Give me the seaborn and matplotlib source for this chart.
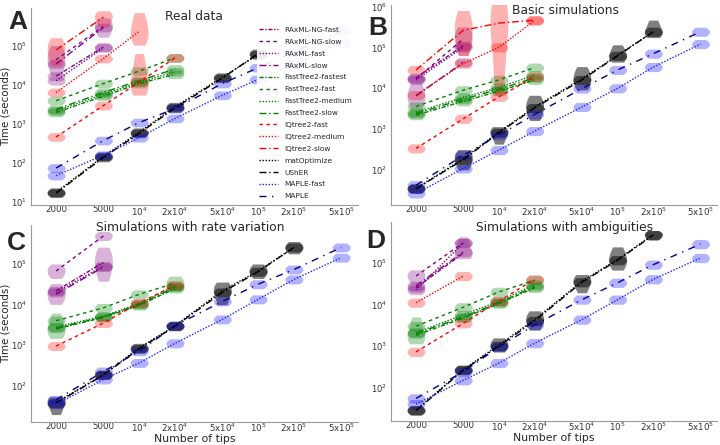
import matplotlib
matplotlib.use("Agg")
import matplotlib.pyplot as plt
from matplotlib.ticker import NullFormatter
import numpy as np
import pandas as pd
import seaborn as sns

SIZES = [2000, 5000, 10000, 20000, 50000, 100000, 200000, 500000]
XLABELS = ["2000", "5000", "10$^4$", "2x10$^4$", "5x10$^4$", "10$^5$", "2x10$^5$", "5x10$^5$"]

METHODS = ["RAxML-NG-fast", "RAxML-NG-slow", "RAxML-fast", "RAxML-slow",
           "FastTree2-fastest", "FastTree2-fast", "FastTree2-medium", "FastTree2-slow",
           "IQtree2-fast", "IQtree2-medium", "IQtree2-slow",
           "matOptimize", "UShER", "MAPLE-fast", "MAPLE"]

# median run times (seconds), one value per size in SIZES order
REAL_MEDIANS = {
    "RAxML-NG-fast": [1.7e4, 9.5e4],
    "RAxML-NG-slow": [4.5e4, 3.2e5],
    "RAxML-fast": [1.3e4, 9.0e4],
    "RAxML-slow": [3.5e4, 3.0e5],
    "FastTree2-fastest": [2000, 5200, 1.1e4, 1.9e4],
    "FastTree2-fast": [4000, 1.1e4, 2.3e4, 5.0e4],
    "FastTree2-medium": [2200, 5800, 1.2e4, 2.2e4],
    "FastTree2-slow": [2400, 6500, 1.3e4, 2.6e4],
    "IQtree2-fast": [470, 3000, 1.2e4, 5.0e4],
    "IQtree2-medium": [6500, 4.8e4, 2.4e5],
    "IQtree2-slow": [8.0e4, 5.5e5],
    "matOptimize": [18, 150, 620, 2800, 1.6e4, 6.0e4],
    "UShER": [17, 140, 580, 2600, 1.5e4, 6.5e4],
    "MAPLE-fast": [48, 160, 450, 1400, 5500, 1.4e4, 3.5e4, 1.2e5],
    "MAPLE": [75, 380, 1100, 2500, 1.1e4, 2.8e4, 7.0e4, 2.5e5],
}
# spread (low, high) of the taller violins; the others are narrow blobs
REAL_RANGES = {
    ("IQtree2-slow", 2000): (4.0e4, 1.3e5),
    ("RAxML-NG-slow", 2000): (2.2e4, 8.0e4),
    ("IQtree2-slow", 5000): (3.5e5, 7.0e5),
    ("RAxML-NG-slow", 5000): (2.0e5, 4.5e5),
    ("IQtree2-medium", 10000): (1.4e5, 5.5e5),
    ("IQtree2-fast", 10000): (8.0e3, 4.5e4),
}

BASIC_MEDIANS = {
    "RAxML-NG-fast": [1.8e4, 1.1e5],
    "RAxML-NG-slow": [1.7e4, 1.6e5],
    "RAxML-fast": [1.6e4, 1.0e5],
    "RAxML-slow": [6500, 4.3e4],
    "FastTree2-fastest": [2200, 4800, 8500, 1.6e4],
    "FastTree2-fast": [3600, 9000, 1.6e4, 3.2e4],
    "FastTree2-medium": [2600, 6000, 1.05e4, 2.1e4],
    "FastTree2-slow": [2400, 5400, 9500, 1.8e4],
    "IQtree2-fast": [340, 1800, 6200, 1.9e4],
    "IQtree2-medium": [6800, 4.0e4, 1.0e5, 4.5e5],
    "IQtree2-slow": [2.8e4, 2.6e5, 3.9e5, 4.6e5],
    "matOptimize": [36, 190, 860, 3500, 1.7e4, 6.4e4, 2.4e5],
    "UShER": [35, 180, 820, 3300, 1.6e4, 6.2e4, 2.4e5],
    "MAPLE-fast": [27, 110, 310, 900, 3500, 1.0e4, 3.3e4, 1.2e5],
    "MAPLE": [43, 230, 720, 2300, 9800, 2.8e4, 7.0e4, 2.4e5],
}
BASIC_RANGES = {
    ("IQtree2-slow", 5000): (9.0e4, 5.5e5),
    ("IQtree2-slow", 10000): (1.5e4, 6.0e5),
    ("RAxML-slow", 2000): (4000, 1.1e4),
    ("RAxML-NG-slow", 5000): (8.0e4, 2.5e5),
    ("matOptimize", 5000): (120, 270),
    ("matOptimize", 10000): (500, 1000),
    ("matOptimize", 20000): (2000, 5500),
    ("matOptimize", 50000): (1.1e4, 2.8e4),
    ("matOptimize", 100000): (5.0e4, 1.0e5),
    ("matOptimize", 200000): (2.0e5, 4.0e5),
}

RATE_MEDIANS = {
    "RAxML-NG-fast": [2.2e4, 1.1e5],
    "RAxML-NG-slow": [6.8e4, 5.0e5],
    "RAxML-fast": [2.0e4, 9.0e4],
    "RAxML-slow": [1.8e4, 8.5e4],
    "FastTree2-fastest": [2500, 4800, 9500, 2.5e4],
    "FastTree2-fast": [4000, 8300, 1.8e4, 3.4e4],
    "FastTree2-medium": [2800, 5200, 1.05e4, 2.9e4],
    "FastTree2-slow": [2600, 5000, 1.0e4, 2.7e4],
    "IQtree2-fast": [940, 3500, 1.1e4, 3.0e4],
    "matOptimize": [38, 185, 850, 3000, 2.2e4, 6.8e4, 2.6e5],
    "UShER": [36, 180, 800, 2900, 2.0e4, 6.5e4, 2.6e5],
    "MAPLE-fast": [34, 140, 360, 1100, 4300, 1.35e4, 4.2e4, 1.45e5],
    "MAPLE": [44, 220, 700, 3000, 1.2e4, 3.2e4, 7.4e4, 2.6e5],
}
RATE_RANGES = {
    ("RAxML-NG-fast", 5000): (5.0e4, 2.0e5),
    ("RAxML-slow", 2000): (1.2e4, 2.8e4),
    ("RAxML-NG-slow", 2000): (5.0e4, 9.0e4),
    ("FastTree2-fastest", 2000): (1800, 5000),
    ("FastTree2-fast", 20000): (2.5e4, 4.5e4),
    ("matOptimize", 2000): (22, 45),
    ("matOptimize", 50000): (1.2e4, 3.0e4),
    ("matOptimize", 100000): (5.0e4, 9.0e4),
    ("matOptimize", 200000): (2.0e5, 3.3e5),
}

AMBIG_MEDIANS = {
    "RAxML-NG-fast": [2.5e4, 1.7e5],
    "RAxML-NG-slow": [4.8e4, 3.0e5],
    "RAxML-fast": [2.2e4, 3.0e5],
    "RAxML-slow": [2.8e4, 1.8e5],
    "FastTree2-fastest": [1800, 4700, 1.05e4, 2.5e4],
    "FastTree2-fast": [3000, 8500, 2.0e4, 3.8e4],
    "FastTree2-medium": [2100, 5600, 1.2e4, 3.0e4],
    "FastTree2-slow": [2000, 5000, 1.1e4, 2.7e4],
    "IQtree2-fast": [720, 3500, 1.2e4, 4.0e4],
    "IQtree2-medium": [1.1e4, 4.8e4],
    "matOptimize": [29, 270, 1070, 4300, 3.6e4, 1.2e5, 4.8e5],
    "UShER": [28, 260, 1000, 4000, 3.4e4, 1.15e5, 4.6e5],
    "MAPLE-fast": [40, 150, 390, 1170, 4300, 1.3e4, 4.0e4, 1.3e5],
    "MAPLE": [55, 240, 950, 3200, 1.3e4, 3.3e4, 9.0e4, 2.8e5],
}
AMBIG_RANGES = {
    ("RAxML-NG-fast", 5000): (1.5e5, 3.5e5),
    ("RAxML-NG-slow", 2000): (3.5e4, 6.0e4),
    ("FastTree2-fastest", 2000): (1400, 4000),
    ("matOptimize", 10000): (800, 1400),
    ("matOptimize", 20000): (2800, 6000),
    ("matOptimize", 50000): (2.2e4, 4.5e4),
    ("matOptimize", 100000): (8.0e4, 2.0e5),
    ("matOptimize", 200000): (3.8e5, 5.5e5),
}

GROUP_COLORS = {"RAxML": "#800080", "FastTree2": "#008000", "IQtree2": "#ff0000",
                "matOptimize": "black", "UShER": "black", "MAPLE-fast": "#2020ff", "MAPLE": "#00008b"}
LINE_COLORS = {m: GROUP_COLORS.get(m, GROUP_COLORS[m.split("-")[0]]) for m in METHODS}
VIOLIN_COLORS = {m: ("#0000ff" if m.startswith("MAPLE") else LINE_COLORS[m]) for m in METHODS}

fastest, fast, medium, slow = (3, 1.2, 1, 1.2), (2.5, 2.5), (1, 1.2), (5, 2, 1, 2)
DASHES = {
    "RAxML-NG-fast": fastest, "RAxML-NG-slow": fast, "RAxML-fast": medium, "RAxML-slow": slow,
    "FastTree2-fastest": fastest, "FastTree2-fast": fast, "FastTree2-medium": medium, "FastTree2-slow": slow,
    "IQtree2-fast": fast, "IQtree2-medium": medium, "IQtree2-slow": slow,
    "matOptimize": medium, "UShER": slow, "MAPLE-fast": medium, "MAPLE": (5, 4, 1, 4),
}


def build_frame(medians, ranges):
    rows = []
    for method, values in medians.items():
        for size, med in zip(SIZES, values):
            lo, hi = ranges.get((method, size), (med / 1.2, med * 1.2))
            for v in (lo, med, hi):
                rows.append({"method": method, "tips": size, "time": v})
    return pd.DataFrame(rows)


def draw_panel(ax, df, ylim, show_legend):
    sns.violinplot(data=df, x="tips", y="time", hue="method", hue_order=METHODS,
                   palette=VIOLIN_COLORS, native_scale=True, log_scale=(True, True),
                   dodge=False, density_norm="width", width=0.5, cut=0.5, inner=None,
                   linewidth=0, saturation=1, alpha=0.3, legend=False, ax=ax)
    for coll in ax.collections:
        fc = coll.get_facecolor()
        if len(fc) and fc[0][:3].sum() < 0.1:
            coll.set_alpha(0.5)
    sns.lineplot(data=df, x="tips", y="time", hue="method", style="method",
                 hue_order=METHODS, style_order=METHODS, palette=LINE_COLORS,
                 dashes=DASHES, estimator="median", errorbar=None, linewidth=1.0,
                 legend=show_legend, ax=ax)
    ax.set_xlim(1230, 6.9e5)
    ax.set_ylim(*ylim)
    ax.set_xticks(SIZES, labels=XLABELS)
    ax.xaxis.set_minor_formatter(NullFormatter())
    ax.tick_params(labelsize=6.1, colors="#333333", length=1.5, width=0.6, pad=1)
    ax.tick_params(axis="x", labelsize=6.2, pad=-1.5)
    ax.tick_params(which="minor", length=1.2, width=0.5, color="#888888")
    sns.despine(ax=ax)
    for side in ("left", "bottom"):
        ax.spines[side].set_color("#999999")
        ax.spines[side].set_linewidth(0.8)
    ax.set_xlabel("")
    ax.set_ylabel("")


sns.set_style("white")
plt.rcParams["font.family"] = ["DejaVu Sans"]
fig = plt.figure(figsize=(7.2, 4.45), dpi=100)

ax_a = fig.add_axes([0.043, 0.539, 0.454, 0.443])
ax_b = fig.add_axes([0.543, 0.539, 0.453, 0.449])
ax_c = fig.add_axes([0.043, 0.052, 0.454, 0.443])
ax_d = fig.add_axes([0.543, 0.054, 0.453, 0.447])

draw_panel(ax_a, build_frame(REAL_MEDIANS, REAL_RANGES), (8.4, 9.5e5), True)
draw_panel(ax_b, build_frame(BASIC_MEDIANS, BASIC_RANGES), (14, 1.06e6), False)
draw_panel(ax_c, build_frame(RATE_MEDIANS, RATE_RANGES), (12.5, 9.5e5), False)
draw_panel(ax_d, build_frame(AMBIG_MEDIANS, AMBIG_RANGES), (15.8, 9.5e5), False)

handles, labels = ax_a.get_legend_handles_labels()
ax_a.get_legend().remove()
ax_a.legend(handles, labels, loc="upper left", bbox_to_anchor=(0.68, 0.935),
            fontsize=5.3, handlelength=2.6, labelspacing=0.78, frameon=True,
            facecolor="white", edgecolor="none", framealpha=0.9, borderpad=0.3)

for ax in (ax_a, ax_c):
    ax.set_ylabel("Time (seconds)", fontsize=7.5)
    ax.yaxis.set_label_coords(-0.063, 0.5)
for ax in (ax_c, ax_d):
    ax.set_xlabel("Number of tips", fontsize=7.8)
    ax.xaxis.set_label_coords(0.5, -0.06)

for x, y, txt in [(194, 17, "Real data"), (566, 11, "Basic simulations"),
                  (190, 228, "Simulations with rate variation"),
                  (565, 228, "Simulations with ambiguities")]:
    fig.text(x / 720, 1 - y / 445, txt, ha="center", va="center", fontsize=8.8)

for x, y, letter in [(18, 22, "A"), (378, 28, "B"), (16, 243, "C"), (376, 241, "D")]:
    fig.text(x / 720, 1 - y / 445, letter, ha="center", va="center",
             fontsize=19, fontweight="bold", family="Liberation Sans")

fig.savefig("out.png", dpi=100)
